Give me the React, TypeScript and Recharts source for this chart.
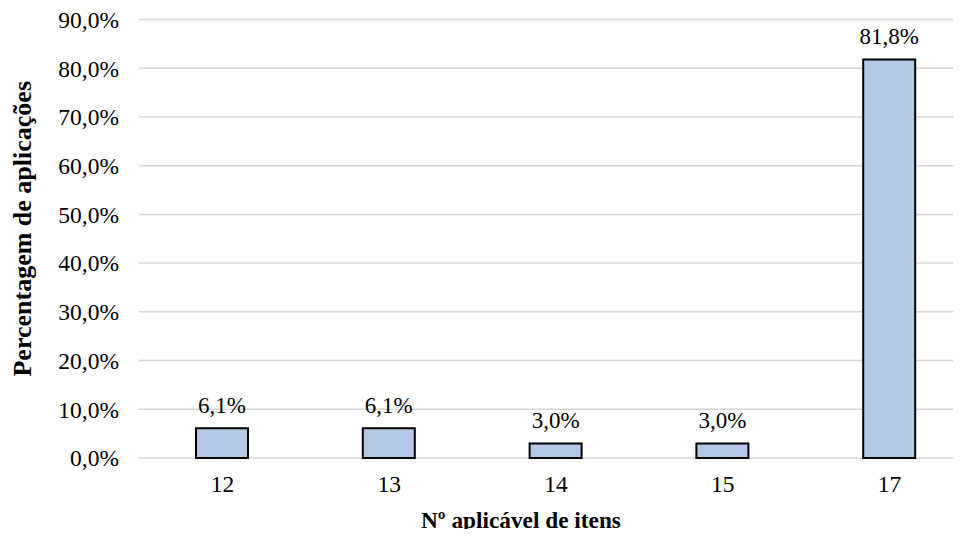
import { Bar, BarChart, CartesianGrid, LabelList, XAxis, YAxis } from 'recharts';

const itemCounts = ['12', '13', '14', '15', '17'];
const shares = [6.1, 6.1, 3.0, 3.0, 81.8];
const yTicks = [0, 10, 20, 30, 40, 50, 60, 70, 80, 90];

const data = itemCounts.map((name, i) => ({ name, value: shares[i] }));

const pct = (v: number) => `${Number(v).toFixed(1).replace('.', ',')}%`;

const font = 'Liberation Serif';
const tickStyle = { fontSize: 23.5, fill: '#000', fontFamily: font };
const labelStyle = { fontSize: 23, fill: '#000', fontFamily: font };
const xTitleStyle = { fontSize: 23.3, fontWeight: 'bold', fill: '#000', fontFamily: font };
const yTitleStyle = { fontSize: 26, fontWeight: 'bold', fill: '#000', fontFamily: font };

export default function App() {
  return (
    <div
      style={{
        margin: -8,
        width: 961,
        height: 537,
        overflow: 'hidden',
        background: '#fff',
        fontFamily: font,
      }}
    >
      <BarChart
        width={975}
        height={537}
        data={data}
        margin={{ top: 19.5, right: 2, bottom: 0, left: 0 }}
        style={{ fontFamily: font }}
      >
        <CartesianGrid vertical={false} stroke="#d4d4d4" strokeWidth={1.5} />
        <XAxis
          dataKey="name"
          height={79}
          axisLine={false}
          tickLine={false}
          tickMargin={11}
          tick={tickStyle}
          label={{
            value: 'Nº aplicável de itens',
            position: 'center',
            dx: -35,
            dy: 22,
            style: xTitleStyle,
          }}
        />
        <YAxis
          width={139}
          domain={[0, 90]}
          ticks={yTicks}
          tickFormatter={pct}
          axisLine={false}
          tickLine={false}
          tickMargin={14}
          tick={tickStyle}
          label={{
            value: 'Percentagem de aplicações',
            angle: -90,
            position: 'center',
            dx: -48,
            dy: -10,
            style: yTitleStyle,
          }}
        />
        <Bar
          dataKey="value"
          fill="#b4c7e7"
          stroke="#000"
          strokeWidth={2}
          barSize={52}
          isAnimationActive={false}
        >
          <LabelList dataKey="value" position="top" offset={15} formatter={pct} style={labelStyle} />
        </Bar>
      </BarChart>
    </div>
  );
}
